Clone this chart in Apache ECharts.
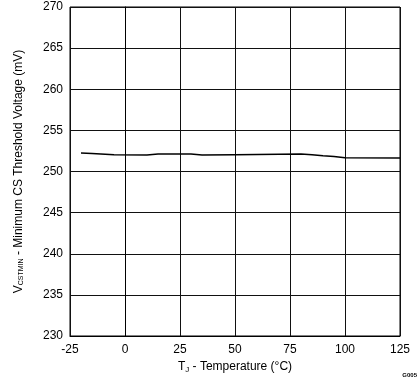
<!DOCTYPE html>
<html>
<head>
<meta charset="utf-8">
<script src="https://cdn.jsdelivr.net/npm/echarts@6/dist/echarts.min.js"></script>
<style>html,body{margin:0;padding:0;background:#fff}#c{width:419px;height:382px}</style>
</head>
<body>
<div id="c"></div>
<script>
const temperatures = [-20, -15, -5, 10, 15, 30, 35, 50, 80, 85, 90, 95, 100, 125];
const thresholdMv  = [252.25, 252.2, 252.05, 252.0, 252.12, 252.12, 252.0, 252.05, 252.12, 252.05, 251.92, 251.82, 251.68, 251.64];
const xTicks = [-25, 0, 25, 50, 75, 100, 125];
const yTicks = [230, 235, 240, 245, 250, 255, 260, 265, 270];

const chart = echarts.init(document.getElementById('c'), null, {renderer: 'canvas'});
const font = 'Liberation Sans, Arial, sans-serif';
chart.setOption({
  animation: false,
  backgroundColor: '#fff',
  grid: {left: 70, right: 19, top: 7, bottom: 46, containLabel: false,
         show: true, borderColor: '#000', borderWidth: 1},
  xAxis: {
    type: 'value', min: xTicks[0], max: xTicks[xTicks.length - 1], interval: 25,
    axisLine: {show: true, lineStyle: {color: '#000', width: 1}},
    axisTick: {show: false},
    splitLine: {show: true, lineStyle: {color: '#111', width: 1}},
    axisLabel: {color: '#000', fontFamily: font, fontSize: 12, margin: 8},
    name: '{n|T}{s|J}{n| - Temperature (°C)}',
    nameLocation: 'middle', nameGap: 23,
    nameTextStyle: {rich: {
      n: {fontFamily: font, fontSize: 12, color: '#000'},
      s: {fontFamily: font, fontSize: 8, color: '#000', verticalAlign: 'bottom', padding: [6, 0, 0, 0]}
    }}
  },
  yAxis: {
    type: 'value', min: yTicks[0], max: yTicks[yTicks.length - 1], interval: 5,
    axisLine: {show: true, lineStyle: {color: '#000', width: 1}},
    axisTick: {show: false},
    splitLine: {show: true, lineStyle: {color: '#111', width: 1}},
    axisLabel: {color: '#000', fontFamily: font, fontSize: 12, margin: 7},
    name: '{n|V}{s|CSTMIN}{n| - Minimum CS Threshold Voltage (mV)}',
    nameLocation: 'middle', nameGap: 45,
    nameTextStyle: {rich: {
      n: {fontFamily: font, fontSize: 12, color: '#000'},
      s: {fontFamily: font, fontSize: 7, color: '#000', verticalAlign: 'bottom', padding: [6, 0, 0, 0]}
    }}
  },
  series: [{
    type: 'line',
    data: temperatures.map((t, i) => [t, thresholdMv[i]]),
    showSymbol: false,
    lineStyle: {color: '#000', width: 1.5},
    z: 5
  }],
  graphic: [{
    type: 'text', right: 2, bottom: 4,
    style: {text: 'G005', fontFamily: font, fontSize: 6, fill: '#000', fontWeight: 'bold'}
  }]
});
</script>
</body>
</html>
